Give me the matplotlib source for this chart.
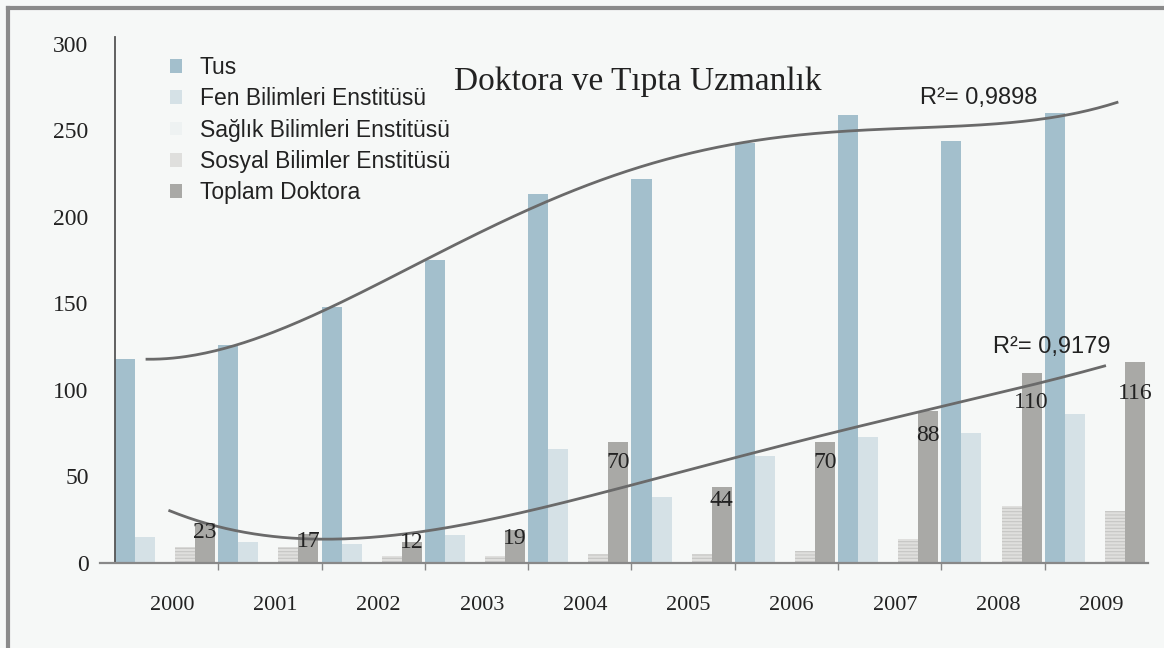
import numpy as np
import matplotlib
matplotlib.use("Agg")
import matplotlib.pyplot as plt
from matplotlib.patches import Patch
from matplotlib.lines import Line2D

years = ["2000", "2001", "2002", "2003", "2004", "2005", "2006", "2007", "2008", "2009"]
tus = [118, 126, 148, 175, 213, 222, 243, 259, 244, 260]
fen = [15, 12, 11, 16, 66, 38, 62, 73, 75, 86]
saglik = [0, 0, 0, 0, 0, 0, 0, 0, 0, 0]
sosyal = [9, 9, 4, 4, 5, 5, 7, 14, 33, 30]
toplam = [23, 17, 12, 19, 70, 44, 70, 88, 110, 116]
series_names = ["Tus", "Fen Bilimleri Enstitüsü", "Sağlık Bilimleri Enstitüsü",
                "Sosyal Bilimler Enstitüsü", "Toplam Doktora"]
r2_tus_value = 0.9898
r2_top_value = 0.9179
r2_tus = "R²= 0,9898"
r2_top = "R²= 0,9179"
title = "Doktora ve Tıpta Uzmanlık"

BG = "#f6f8f7"
colors = ["#a3bfcc", "#d5e1e6", "#eef2f2", "#dfdfdd", "#a9a9a6"]
hatches = [None, None, None, "-----", None]
SERIF = ["Liberation Serif", "DejaVu Serif"]
SANS = ["Liberation Sans", "DejaVu Sans"]


def best_poly(xv, yv, target):
    """Polynomial trend (Excel-style) whose R² is closest to the reported one."""
    xv = np.asarray(xv, float)
    yv = np.asarray(yv, float)
    best = None
    for d in range(2, 7):
        p = np.polyfit(xv, yv, d)
        fit = np.polyval(p, xv)
        r2 = 1 - np.sum((yv - fit) ** 2) / np.sum((yv - yv.mean()) ** 2)
        if best is None or abs(r2 - target) < best[0]:
            best = (abs(r2 - target), p)
    return best[1]


fig = plt.figure(figsize=(11.64, 6.48), dpi=100, facecolor=BG)
ax = fig.add_axes([100/1164, 1-563/648, 1048/1164, (563-37)/648])
ax.set_facecolor(BG)

x = np.arange(len(years))
w = 0.194
data = [tus, fen, saglik, sosyal, toplam]
plt.rcParams['hatch.linewidth'] = 0.8
for k, (vals, c, h) in enumerate(zip(data, colors, hatches)):
    pos = x - 0.5 + w/2 + k*w
    if h:
        ax.bar(pos, vals, width=w, color=c, edgecolor="#c6c6c4", linewidth=0, hatch=h, zorder=2)
    else:
        ax.bar(pos, vals, width=w, color=c, linewidth=0, zorder=2)

# data labels on Toplam Doktora
pos_t = x - 0.5 + w/2 + 4*w
for px, v in zip(pos_t, toplam):
    ax.text(px, max(v*0.86 - 2, 12), str(v), ha="center", va="center",
            fontsize=17, family=SERIF, color="#222222", zorder=4)

# polynomial trend lines
pos_tus = x - 0.5 + w/2
p1 = best_poly(pos_tus, tus, r2_tus_value)
xx1 = np.linspace(-0.19, 9.2, 300)
ax.plot(xx1, np.polyval(p1, xx1), color="#6a6a6a", lw=2, zorder=3)
p2 = best_poly(pos_t, toplam, r2_top_value)
xx2 = np.linspace(0.03, 9.08, 300)
ax.plot(xx2, np.polyval(p2, xx2), color="#6a6a6a", lw=2, zorder=3)

ax.text(7.29, 269, r2_tus, ha="left", va="center", fontsize=17, family=SANS, color="#222222")
ax.text(8.0, 125, r2_top, ha="left", va="center", fontsize=17, family=SANS, color="#222222")

ax.set_xlim(-0.645, 9.5)
ax.set_ylim(0, 304)
for s in ["top", "right"]:
    ax.spines[s].set_visible(False)
ax.spines["left"].set_position(("data", -0.5))
ax.spines["left"].set_color("#555555")
ax.spines["left"].set_linewidth(1.3)
ax.spines["bottom"].set_color("#888888")
ax.spines["bottom"].set_linewidth(1.6)

ax.set_yticks([0, 50, 100, 150, 200, 250, 300])
ax.tick_params(axis="y", length=0, pad=19, labelsize=17, labelcolor="#222222")
for t in ax.get_yticklabels():
    t.set_family(SERIF)

ax.set_xticks(np.arange(0.5, 9.0, 1.0))
ax.set_xticklabels([])
ax.tick_params(axis="x", which="major", length=5, width=1, color="#888888")
ax.set_xticks(x + 0.05, minor=True)
ax.set_xticklabels(years, minor=True)
ax.tick_params(axis="x", which="minor", length=0, pad=24, labelsize=16, labelcolor="#222222")
for t in ax.get_xticklabels(minor=True):
    t.set_family(SERIF)

handles = [Patch(facecolor=c, edgecolor="none") for c in colors]
leg = ax.legend(handles, series_names, loc="upper left", bbox_to_anchor=(0.047, 1.003),
                frameon=False, handlelength=0.55, handleheight=0.55, handletextpad=0.75,
                labelspacing=0.36, borderpad=0.4,
                prop={"family": SANS, "size": 16.5})
for t in leg.get_texts():
    t.set_color("#222222")

fig.text(638/1164, 1-82/648, title, ha="center", va="center", fontsize=24,
         family=SERIF, color="#222222")

# scan frame (top and left edges)
fig.add_artist(Line2D([8/1164, 1.0], [1-8/648, 1-8/648], transform=fig.transFigure,
                      color="#8a8a8a", lw=3))
fig.add_artist(Line2D([8/1164, 8/1164], [0, 1-8/648], transform=fig.transFigure,
                      color="#8a8a8a", lw=3))

fig.savefig("out.png", dpi=100, facecolor=BG)
